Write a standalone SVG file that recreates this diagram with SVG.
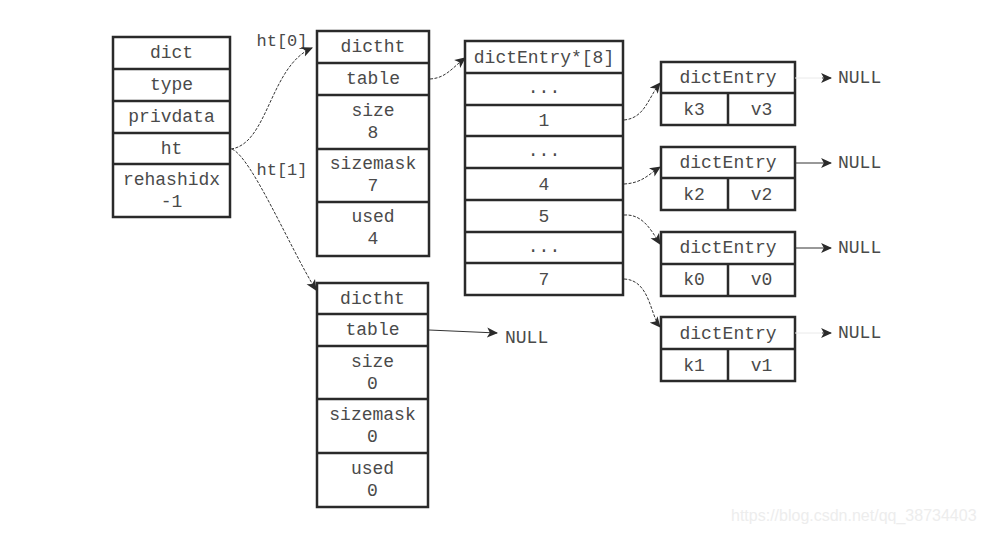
<svg xmlns="http://www.w3.org/2000/svg" width="983" height="533" viewBox="0 0 983 533">
<defs>
<style>
.box{fill:#fff;stroke:#2a2a2a;stroke-width:2.5}
.ln{stroke:#2a2a2a;stroke-width:2.5;fill:none}
text{font-family:"Liberation Mono","Courier New",monospace;font-size:18px;fill:#4a4a4a;text-anchor:middle}
.lbl{font-size:17px}
.null{text-anchor:start}
.c{fill:none;stroke:#333;stroke-width:1;stroke-dasharray:3 1.5}
.s{fill:none;stroke:#333;stroke-width:1}
.f{fill:none;stroke:#eaeaea;stroke-width:1}
.wm{font-family:"Liberation Sans",Arial,sans-serif;font-size:16px;fill:#ededed;text-anchor:start}
</style>
<marker id="ah" viewBox="0 0 10 10" refX="9" refY="5" markerWidth="11" markerHeight="11" markerUnits="userSpaceOnUse" orient="auto">
<path d="M0,0.5 L10,5 L0,9.5 L2.5,5 Z" fill="#2a2a2a"/>
</marker>
</defs>
<rect width="983" height="533" fill="#fff"/>

<g id="dict">
<rect class="box" x="113" y="37" width="117" height="180"/>
<path class="ln" d="M113,69H230M113,101H230M113,133H230M113,164H230"/>
<text x="171.5" y="58">dict</text>
<text x="171.5" y="90">type</text>
<text x="171.5" y="122">privdata</text>
<text x="171.5" y="154">ht</text>
<text x="171.5" y="185">rehashidx</text>
<text x="171.5" y="207">-1</text>
</g>

<g id="dictht0">
<rect class="box" x="317" y="31" width="112" height="225"/>
<path class="ln" d="M317,63H429M317,95H429M317,149H429M317,202H429"/>
<text x="373" y="52">dictht</text>
<text x="373" y="84">table</text>
<text x="373" y="116">size</text>
<text x="373" y="138">8</text>
<text x="373" y="169">sizemask</text>
<text x="373" y="191">7</text>
<text x="373" y="222">used</text>
<text x="373" y="244">4</text>
</g>

<g id="dictht1">
<rect class="box" x="317" y="283" width="111" height="224"/>
<path class="ln" d="M317,314H428M317,346H428M317,399H428M317,453H428"/>
<text x="372.5" y="304">dictht</text>
<text x="372.5" y="335">table</text>
<text x="372.5" y="367">size</text>
<text x="372.5" y="389">0</text>
<text x="372.5" y="420">sizemask</text>
<text x="372.5" y="442">0</text>
<text x="372.5" y="474">used</text>
<text x="372.5" y="496">0</text>
</g>

<g id="array">
<rect class="box" x="465" y="41" width="158" height="254"/>
<path class="ln" d="M465,73H623M465,105H623M465,136H623M465,168H623M465,200H623M465,232H623M465,263H623"/>
<text x="544" y="63">dictEntry*[8]</text>
<text x="544" y="93">...</text>
<text x="544" y="126">1</text>
<text x="544" y="156">...</text>
<text x="544" y="190">4</text>
<text x="544" y="222">5</text>
<text x="544" y="252">...</text>
<text x="544" y="285">7</text>
</g>

<g id="entry3">
<rect class="box" x="661" y="62" width="134" height="63"/>
<path class="ln" d="M661,93H795M728,93V125"/>
<text x="728" y="83">dictEntry</text>
<text x="694" y="115">k3</text>
<text x="761.5" y="115">v3</text>
</g>
<g id="entry2">
<rect class="box" x="661" y="147" width="134" height="63"/>
<path class="ln" d="M661,178H795M728,178V210"/>
<text x="728" y="168">dictEntry</text>
<text x="694" y="200">k2</text>
<text x="761.5" y="200">v2</text>
</g>
<g id="entry0">
<rect class="box" x="661" y="232" width="134" height="64"/>
<path class="ln" d="M661,264H795M728,264V296"/>
<text x="728" y="253">dictEntry</text>
<text x="694" y="285">k0</text>
<text x="761.5" y="285">v0</text>
</g>
<g id="entry1">
<rect class="box" x="661" y="317" width="134" height="64"/>
<path class="ln" d="M661,349H795M728,349V381"/>
<text x="728" y="339">dictEntry</text>
<text x="694" y="371">k1</text>
<text x="761.5" y="371">v1</text>
</g>

<g id="labels">
<text class="lbl" x="282" y="46">ht[0]</text>
<text class="lbl" x="282" y="175">ht[1]</text>
<text class="null" x="505" y="343">NULL</text>
<text class="null" x="838" y="83">NULL</text>
<text class="null" x="838" y="168">NULL</text>
<text class="null" x="838" y="253">NULL</text>
<text class="null" x="838" y="338">NULL</text>
</g>

<g id="connectors">
<path class="c" d="M231,149 C268,144 270,66 312,48" marker-end="url(#ah)"/>
<path class="c" d="M232,149 C252,158 290,248 316,290" marker-end="url(#ah)"/>
<path class="c" d="M430,79 C446,78 452,68 465,58" marker-end="url(#ah)"/>
<path class="s" d="M429,330 L497,333" marker-end="url(#ah)"/>
<path class="c" d="M624,120 C645,118 648,98 660,83" marker-end="url(#ah)"/>
<path class="c" d="M624,184 C642,183 648,175 660,167" marker-end="url(#ah)"/>
<path class="c" d="M624,215 C642,214 650,228 660,244" marker-end="url(#ah)"/>
<path class="c" d="M624,279 C650,280 650,315 660,327" marker-end="url(#ah)"/>
<path class="f" d="M795,78 L822,78"/>
<path class="s" d="M822,78 L831,78" marker-end="url(#ah)"/>
<path class="s" d="M795,163 L831,163" marker-end="url(#ah)"/>
<path class="s" d="M795,248 L831,248" marker-end="url(#ah)"/>
<path class="f" d="M795,333 L822,333"/>
<path class="s" d="M822,333 L831,333" marker-end="url(#ah)"/>
</g>

<text class="wm" x="731" y="521">https://blog.csdn.net/qq_38734403</text>
</svg>
